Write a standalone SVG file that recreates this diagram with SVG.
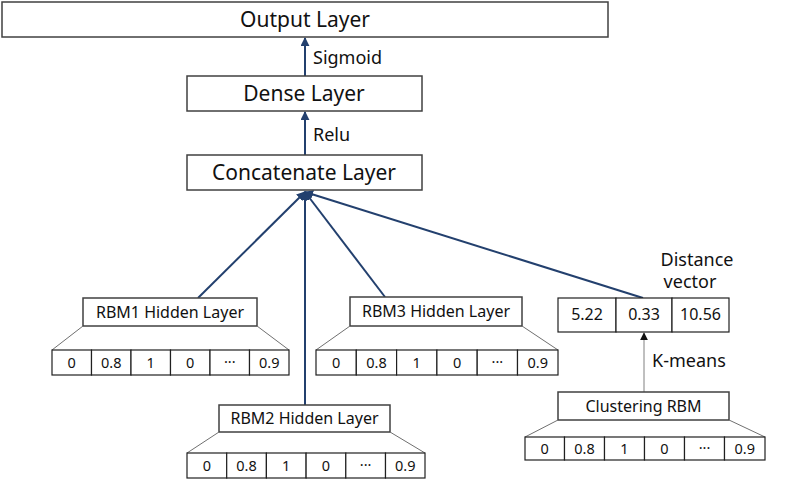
<svg xmlns="http://www.w3.org/2000/svg" width="790" height="485" viewBox="0 0 790 485">
<defs>
<style>
.box{fill:#fff;stroke:#404040;stroke-width:1.5}
.cell{fill:#fff;stroke:#202020;stroke-width:1.2}
.trap{stroke:#707070;stroke-width:1;fill:none}
.t{font-family:"Noto Sans","Open Sans",sans-serif;fill:#111;text-anchor:middle}
.big{font-size:21px}
.mid{font-size:16px}
.sm{font-size:14.5px}
.dv{font-size:16px}
.lbl{font-family:"Noto Sans","Open Sans",sans-serif;fill:#111;font-size:18px}
.conn{stroke:#23406e;stroke-width:2;fill:none}
.gconn{stroke:#808080;stroke-width:1;fill:none}
</style>
<marker id="ah" viewBox="0 0 10 10" refX="9" refY="5" markerWidth="4.5" markerHeight="4.5" orient="auto" markerUnits="strokeWidth">
<path d="M0,0 L10,5 L0,10 z" fill="#23406e"/>
</marker>
<marker id="ahk" viewBox="0 0 10 10" refX="9" refY="5" markerWidth="8" markerHeight="8" orient="auto" markerUnits="strokeWidth">
<path d="M0,0 L10,5 L0,10 z" fill="#111"/>
</marker>
</defs>
<rect width="790" height="485" fill="#fff"/>

<g id="connectors">
<line class="conn" x1="305" y1="76" x2="305" y2="38" marker-end="url(#ah)"/>
<line class="conn" x1="305" y1="155" x2="305" y2="112" marker-end="url(#ah)"/>
<line class="conn" x1="198" y1="298" x2="305" y2="192" marker-end="url(#ah)"/>
<line class="conn" x1="305" y1="405" x2="305" y2="192" marker-end="url(#ah)"/>
<line class="conn" x1="385" y1="297" x2="305" y2="192" marker-end="url(#ah)"/>
<line class="conn" x1="643" y1="298" x2="305" y2="192" marker-end="url(#ah)"/>
<line class="gconn" x1="644" y1="392" x2="644" y2="333" marker-end="url(#ahk)"/>
<text class="lbl" x="313" y="64">Sigmoid</text>
<text class="lbl" x="313" y="141">Relu</text>
<text class="lbl" x="652" y="367">K-means</text>
</g>

<g id="output-layer">
<rect class="box" x="2" y="2" width="606" height="35"/>
<text class="t big" x="305" y="27">Output Layer</text>
</g>

<g id="dense-layer">
<rect class="box" x="187" y="76" width="235" height="35"/>
<text class="t big" x="304" y="101">Dense Layer</text>
</g>

<g id="concatenate-layer">
<rect class="box" x="187" y="155" width="235" height="35"/>
<text class="t big" x="304" y="180">Concatenate Layer</text>
</g>

<g id="rbm1">
<rect class="box" x="83" y="298" width="174" height="28"/>
<text class="t mid" x="170" y="318">RBM1 Hidden Layer</text>
<path class="trap" d="M83,326 L52,350 M257,326 L289,350"/>
<rect class="cell" x="52" y="350" width="39.5" height="25"/>
<rect class="cell" x="91.5" y="350" width="39.5" height="25"/>
<rect class="cell" x="131" y="350" width="39.5" height="25"/>
<rect class="cell" x="170.5" y="350" width="39.5" height="25"/>
<rect class="cell" x="210" y="350" width="39.5" height="25"/>
<rect class="cell" x="249.5" y="350" width="39.5" height="25"/>
<text class="t sm" x="71.75" y="368">0</text>
<text class="t sm" x="111.25" y="368">0.8</text>
<text class="t sm" x="150.75" y="368">1</text>
<text class="t sm" x="190.25" y="368">0</text>
<text class="t sm" x="229.75" y="367">···</text>
<text class="t sm" x="269.25" y="368">0.9</text>
</g>

<g id="rbm2">
<rect class="box" x="219" y="405" width="171" height="27"/>
<text class="t mid" x="304.5" y="424">RBM2 Hidden Layer</text>
<path class="trap" d="M219,432 L187,453 M390,432 L425,453"/>
<rect class="cell" x="187" y="453" width="39.7" height="25"/>
<rect class="cell" x="226.7" y="453" width="39.7" height="25"/>
<rect class="cell" x="266.4" y="453" width="39.7" height="25"/>
<rect class="cell" x="306.1" y="453" width="39.7" height="25"/>
<rect class="cell" x="345.8" y="453" width="39.7" height="25"/>
<rect class="cell" x="385.5" y="453" width="39.5" height="25"/>
<text class="t sm" x="206.85" y="471">0</text>
<text class="t sm" x="246.55" y="471">0.8</text>
<text class="t sm" x="286.25" y="471">1</text>
<text class="t sm" x="325.95" y="471">0</text>
<text class="t sm" x="365.65" y="470">···</text>
<text class="t sm" x="405.25" y="471">0.9</text>
</g>

<g id="rbm3">
<rect class="box" x="350" y="297" width="172" height="29"/>
<text class="t mid" x="436" y="317">RBM3 Hidden Layer</text>
<path class="trap" d="M350,326 L316,350 M522,326 L558,350"/>
<rect class="cell" x="316" y="350" width="40.3" height="25"/>
<rect class="cell" x="356.3" y="350" width="40.3" height="25"/>
<rect class="cell" x="396.6" y="350" width="40.3" height="25"/>
<rect class="cell" x="436.9" y="350" width="40.3" height="25"/>
<rect class="cell" x="477.2" y="350" width="40.3" height="25"/>
<rect class="cell" x="517.5" y="350" width="40.5" height="25"/>
<text class="t sm" x="336.15" y="368">0</text>
<text class="t sm" x="376.45" y="368">0.8</text>
<text class="t sm" x="416.75" y="368">1</text>
<text class="t sm" x="457.05" y="368">0</text>
<text class="t sm" x="497.35" y="367">···</text>
<text class="t sm" x="537.75" y="368">0.9</text>
</g>

<g id="distance-vector">
<text class="lbl" x="697" y="266" text-anchor="middle">Distance</text>
<text class="lbl" x="690" y="288" text-anchor="middle">vector</text>
<rect class="cell" x="558" y="298" width="58" height="34"/>
<rect class="cell" x="616" y="298" width="56" height="34"/>
<rect class="cell" x="672" y="298" width="57" height="34"/>
<text class="t dv" x="587" y="320">5.22</text>
<text class="t dv" x="644" y="320">0.33</text>
<text class="t dv" x="700.5" y="320">10.56</text>
</g>

<g id="clustering-rbm">
<rect class="box" x="558" y="392" width="171" height="28"/>
<text class="t mid" x="643.5" y="412">Clustering RBM</text>
<path class="trap" d="M558,420 L525,437 M729,420 L765,437"/>
<rect class="cell" x="525" y="437" width="39.5" height="23"/>
<rect class="cell" x="564.5" y="437" width="40" height="23"/>
<rect class="cell" x="604.5" y="437" width="40" height="23"/>
<rect class="cell" x="644.5" y="437" width="40" height="23"/>
<rect class="cell" x="684.5" y="437" width="40" height="23"/>
<rect class="cell" x="724.5" y="437" width="40.5" height="23"/>
<text class="t sm" x="544.75" y="454">0</text>
<text class="t sm" x="584.5" y="454">0.8</text>
<text class="t sm" x="624.5" y="454">1</text>
<text class="t sm" x="664.5" y="454">0</text>
<text class="t sm" x="704.5" y="453">···</text>
<text class="t sm" x="744.75" y="454">0.9</text>
</g>
</svg>
